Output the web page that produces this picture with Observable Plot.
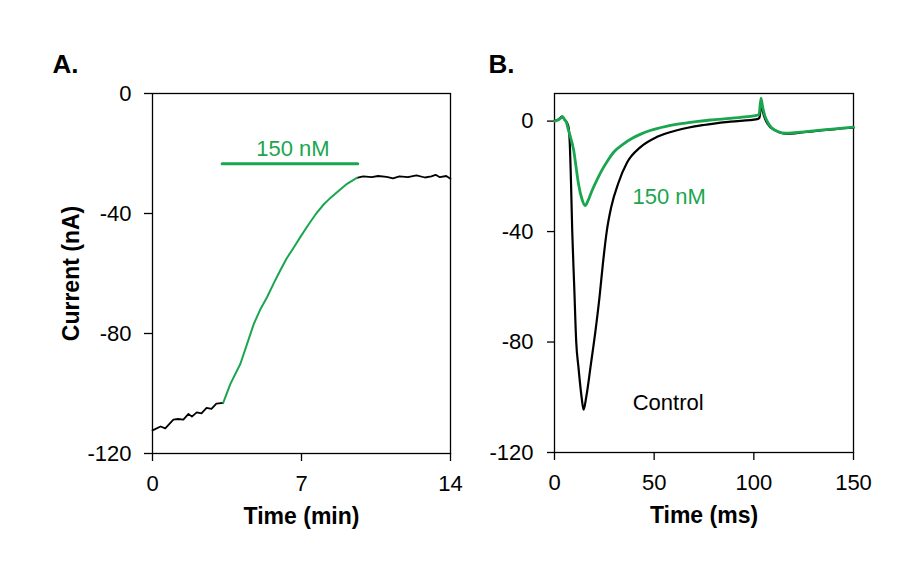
<!DOCTYPE html>
<html><head><meta charset="utf-8">
<script src="https://cdn.jsdelivr.net/npm/d3@7"></script>
<script src="https://cdn.jsdelivr.net/npm/@observablehq/plot@0.6"></script>
<style>
html,body{margin:0;padding:0;background:#fff;}
#chart{position:relative;width:923px;height:578px;overflow:hidden;background:#fff;}
#chart svg{position:absolute;top:0;}
</style></head><body><div id="chart"></div>
<script>
// ---------- Panel A data ----------
const xTicksA = [0, 7, 14];
const xTickLabelsA = ["0", "7", "14"];
const yTicksA = [0, -40, -80, -120];
const yTickLabelsA = ["0", "-40", "-80", "-120"];
const baselineA = [[0,-112.3],[0.38,-111.0],[0.6,-111.6],[0.98,-108.7],[1.2,-108.5],[1.45,-108.7],[1.69,-106.8],[1.85,-107.7],[2.08,-106.3],[2.3,-106.6],[2.54,-104.8],[2.77,-105.1],[3.0,-103.4],[3.32,-103.1]];
const drugA = [[3.32,-103.1],[3.66,-96.8],[4.13,-90.1],[4.76,-76.8],[5.05,-72.2],[5.38,-67.9],[5.7,-63.2],[6.0,-59.0],[6.3,-55.0],[6.63,-51.4],[6.95,-47.8],[7.3,-44.0],[7.65,-40.4],[8.04,-37.0],[8.3,-35.2],[8.67,-32.9],[9.14,-30.1],[9.6,-28.1]];
const washA = [[9.6,-28.1],[9.9,-27.6],[10.3,-27.9],[10.6,-27.5],[11.0,-27.8],[11.3,-28.3],[11.6,-27.6],[12.0,-27.9],[12.4,-27.3],[12.8,-28.0],[13.1,-27.6],[13.3,-27.1],[13.5,-27.9],[13.8,-27.5],[14,-28.4]];
const drugBarA = [[3.27,-23.4],[9.64,-23.4]];
const annotA = [{t: 6.6, v: -18.6, label: "150 nM"}];

// ---------- Panel B data ----------
const xTicksB = [0, 50, 100, 150];
const xTickLabelsB = ["0", "50", "100", "150"];
const yTicksB = [0, -40, -80, -120];
const yTickLabelsB = ["0", "-40", "-80", "-120"];
const controlB = [[0,0],[1,0.3],[2,0.6],[3.7,1.6],[5,0.6],[6.2,-0.5],[7,-2],[7.6,-7],[8.2,-20],[8.9,-40],[9.9,-60],[10.9,-80],[12,-89],[13.6,-100],[14.6,-104.5],[15.9,-100],[18.3,-87.8],[20.6,-75.7],[22.6,-63.6],[24.3,-51.5],[26.3,-39.5],[28.5,-31],[32,-22.5],[36.4,-15],[43,-9.5],[51.5,-5.7],[61.5,-3.3],[74.9,-1.4],[88.3,-0.2],[101.7,0.7],[102.8,1.2],[103.8,6.5],[104.6,3.2],[106,0.2],[108,-2],[110,-3],[113,-4.1],[116.8,-4.6],[125,-4],[133.5,-3.4],[142,-2.8],[150,-2.4]];
const drugB = [[0,0],[1.5,0.3],[3,1.0],[4,1.6],[5,0.6],[6,-0.5],[7,-3.3],[8.3,-6.5],[9.6,-10.5],[10.8,-16.5],[12,-22.6],[13.8,-28.3],[15.4,-30.6],[16.8,-28.8],[18.8,-25.2],[21.5,-21],[24,-17.5],[26.5,-14.5],[30,-11],[34.5,-8.3],[39,-6.2],[43,-4.8],[48,-3.4],[56,-1.9],[64.8,-0.8],[72,-0.1],[78.2,0.4],[88,1.0],[96.7,1.6],[102.6,2.3],[103.6,8.3],[104.5,4.8],[105.5,2],[107,-0.5],[109,-2.5],[112,-3.8],[116,-4.4],[122,-4.1],[133.5,-3.3],[142,-2.7],[150,-2.2]];
const annotDrugB = [{t: 57.5, v: -27.6, label: "150 nM"}];
const annotControlB = [{t: 57, v: -101.9, label: "Control"}];

// ---------- styling ----------
const GREEN = "#1aa64f";
const FONT = "'Liberation Sans', Arial, Helvetica, sans-serif";
const fmt = (ticks, labels) => d => labels[ticks.indexOf(d)];
const X = d => d[0], Y = d => d[1];

const plotA = Plot.plot({
  width: 470, height: 578,
  marginLeft: 152, marginRight: 20, marginTop: 93, marginBottom: 125,
  style: {fontFamily: FONT, fontSize: "22px", background: "transparent", overflow: "visible", color: "black"},
  x: {domain: [0, 14]},
  y: {domain: [-120, 0]},
  marks: [
    Plot.frame({strokeWidth: 1.3}),
    Plot.axisX({ticks: xTicksA, tickFormat: fmt(xTicksA, xTickLabelsA), tickSize: 8, tickPadding: 14, label: null, strokeWidth: 1.3}),
    Plot.axisY({ticks: yTicksA, tickFormat: fmt(yTicksA, yTickLabelsA), tickSize: 8, tickPadding: 13, label: null, strokeWidth: 1.3}),
    Plot.line(baselineA, {x: X, y: Y, stroke: "black", strokeWidth: 1.8}),
    Plot.line(washA, {x: X, y: Y, stroke: "black", strokeWidth: 1.8}),
    Plot.line(drugA, {x: X, y: Y, stroke: GREEN, strokeWidth: 2}),
    Plot.line(drugBarA, {x: X, y: Y, stroke: GREEN, strokeWidth: 3}),
    Plot.text(annotA, {x: "t", y: "v", text: "label", fill: GREEN, fontSize: 22}),
    Plot.text(["A."], {text: d => d, frameAnchor: "top-left", dx: -100, dy: -29, textAnchor: "start", lineAnchor: "middle", fontWeight: "bold", fontSize: 26}),
    Plot.text(["Current (nA)"], {text: d => d, frameAnchor: "left", rotate: -90, dx: -81, textAnchor: "middle", lineAnchor: "middle", fontWeight: "bold", fontSize: 23}),
    Plot.text(["Time (min)"], {text: d => d, frameAnchor: "bottom", dy: 63, textAnchor: "middle", lineAnchor: "middle", fontWeight: "bold", fontSize: 23})
  ]
});

const plotB = Plot.plot({
  width: 453, height: 578,
  marginLeft: 84, marginRight: 70, marginTop: 93, marginBottom: 126,
  style: {fontFamily: FONT, fontSize: "22px", background: "transparent", overflow: "visible", color: "black"},
  x: {domain: [0, 150]},
  y: {domain: [-120, 10]},
  marks: [
    Plot.frame({strokeWidth: 1.3}),
    Plot.axisX({ticks: xTicksB, tickFormat: fmt(xTicksB, xTickLabelsB), tickSize: 8, tickPadding: 14, label: null, strokeWidth: 1.3}),
    Plot.axisY({ticks: yTicksB, tickFormat: fmt(yTicksB, yTickLabelsB), tickSize: 7, tickPadding: 14, label: null, strokeWidth: 1.3}),
    Plot.line(controlB, {x: X, y: Y, stroke: "black", strokeWidth: 2.2, curve: "monotone-x"}),
    Plot.line(drugB, {x: X, y: Y, stroke: GREEN, strokeWidth: 2.8, curve: "monotone-x"}),
    Plot.text(annotDrugB, {x: "t", y: "v", text: "label", fill: GREEN, fontSize: 22}),
    Plot.text(annotControlB, {x: "t", y: "v", text: "label", fill: "black", fontSize: 22}),
    Plot.text(["B."], {text: d => d, frameAnchor: "top-left", dx: -66, dy: -29, textAnchor: "start", lineAnchor: "middle", fontWeight: "bold", fontSize: 26}),
    Plot.text(["Time (ms)"], {text: d => d, frameAnchor: "bottom", dy: 63, textAnchor: "middle", lineAnchor: "middle", fontWeight: "bold", fontSize: 23})
  ]
});

plotA.style.left = "0px";
plotB.style.left = "470px";
const chart = document.getElementById("chart");
chart.appendChild(plotA);
chart.appendChild(plotB);
</script>
</body></html>
